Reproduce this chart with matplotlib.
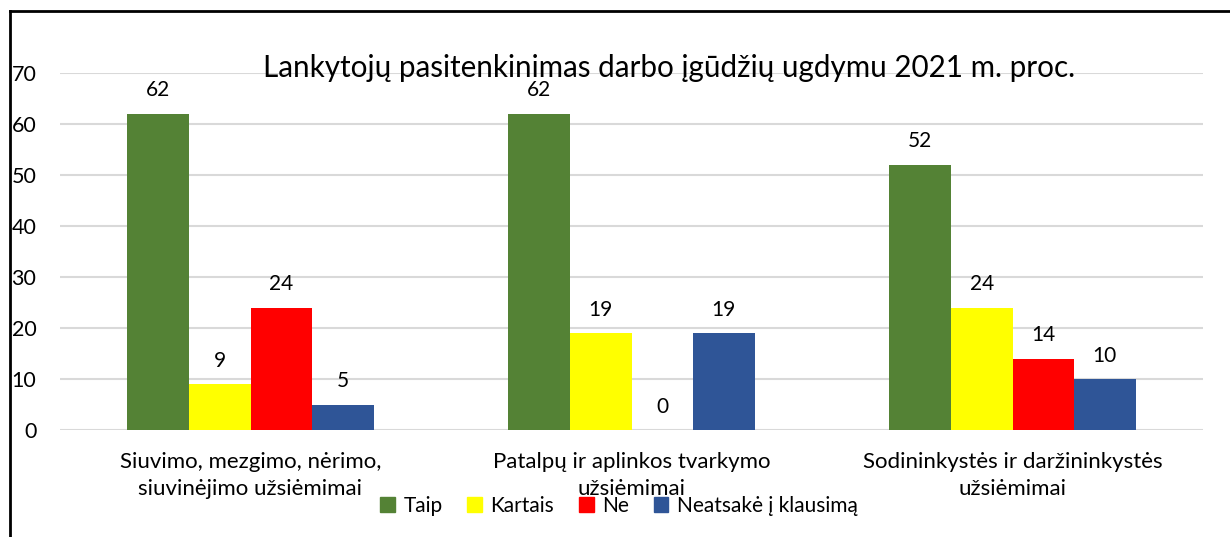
import numpy as np
import matplotlib.pyplot as plt
from matplotlib.lines import Line2D

plt.rcParams['font.family'] = ['Lato', 'DejaVu Sans']

#data
categories = ["Siuvimo, mezgimo, nėrimo,\nsiuvinėjimo užsiėmimai",
              "Patalpų ir aplinkos tvarkymo\nužsiėmimai",
              "Sodininkystės ir daržininkystės\nužsiėmimai"]
series_names = ["Taip", "Kartais", "Ne", "Neatsakė į klausimą"]
taip = [62, 62, 52]
kartais = [9, 19, 24]
ne = [24, 0, 14]
neatsake = [5, 19, 10]
colors = ["#548235", "#FFFF00", "#FF0000", "#2F5597"]
title = "Lankytojų pasitenkinimas darbo įgūdžių ugdymu 2021 m. proc."

W, H = 1230, 537
fig = plt.figure(figsize=(W/100, H/100), dpi=100)
ax = fig.add_axes([60/W, 1-430/H, (1203-60)/W, (430-73)/H])

x = np.arange(len(categories))
bw = 0.1615
all_series = [taip, kartais, ne, neatsake]
for i, (vals, c, name) in enumerate(zip(all_series, colors, series_names)):
    pos = x + (i-1.5)*bw
    ax.bar(pos, vals, bw, color=c, label=name, zorder=2)
    for xp, v in zip(pos, vals):
        ax.text(xp, v+4.6, str(v), ha="center", va="center", fontsize=15, zorder=3)

ax.set_xlim(-0.5, 2.5)
ax.set_ylim(0, 70)
ax.set_yticks(np.arange(0, 71, 10))
ax.grid(axis="y", color="#d9d9d9", linewidth=1.5, zorder=0)
ax.set_axisbelow(True)
for s in ax.spines.values():
    s.set_visible(False)
ax.tick_params(axis="y", length=0, pad=17, labelsize=15.5)
ax.tick_params(axis="x", length=0, pad=16, labelsize=16)
ax.set_xticks(x)
ax.set_xticklabels(categories, linespacing=1.45)

fig.text(669/W, 1-68/H, title, ha="center", va="center", fontsize=21.3)

handles = [plt.Rectangle((0, 0), 1, 1, color=c) for c in colors]
fig.legend(handles, series_names, loc="center", bbox_to_anchor=(619/W, 1-506/H),
           ncol=4, frameon=False, fontsize=15, handlelength=0.7, handleheight=0.7,
           handletextpad=0.4, columnspacing=1.2)

#frame lines on top and left
fig.add_artist(Line2D([10/W, 1], [1-11/H, 1-11/H], color="black", linewidth=2))
fig.add_artist(Line2D([10/W, 10/W], [0, 1-11/H], color="black", linewidth=2))

fig.savefig("out.png", dpi=100)
